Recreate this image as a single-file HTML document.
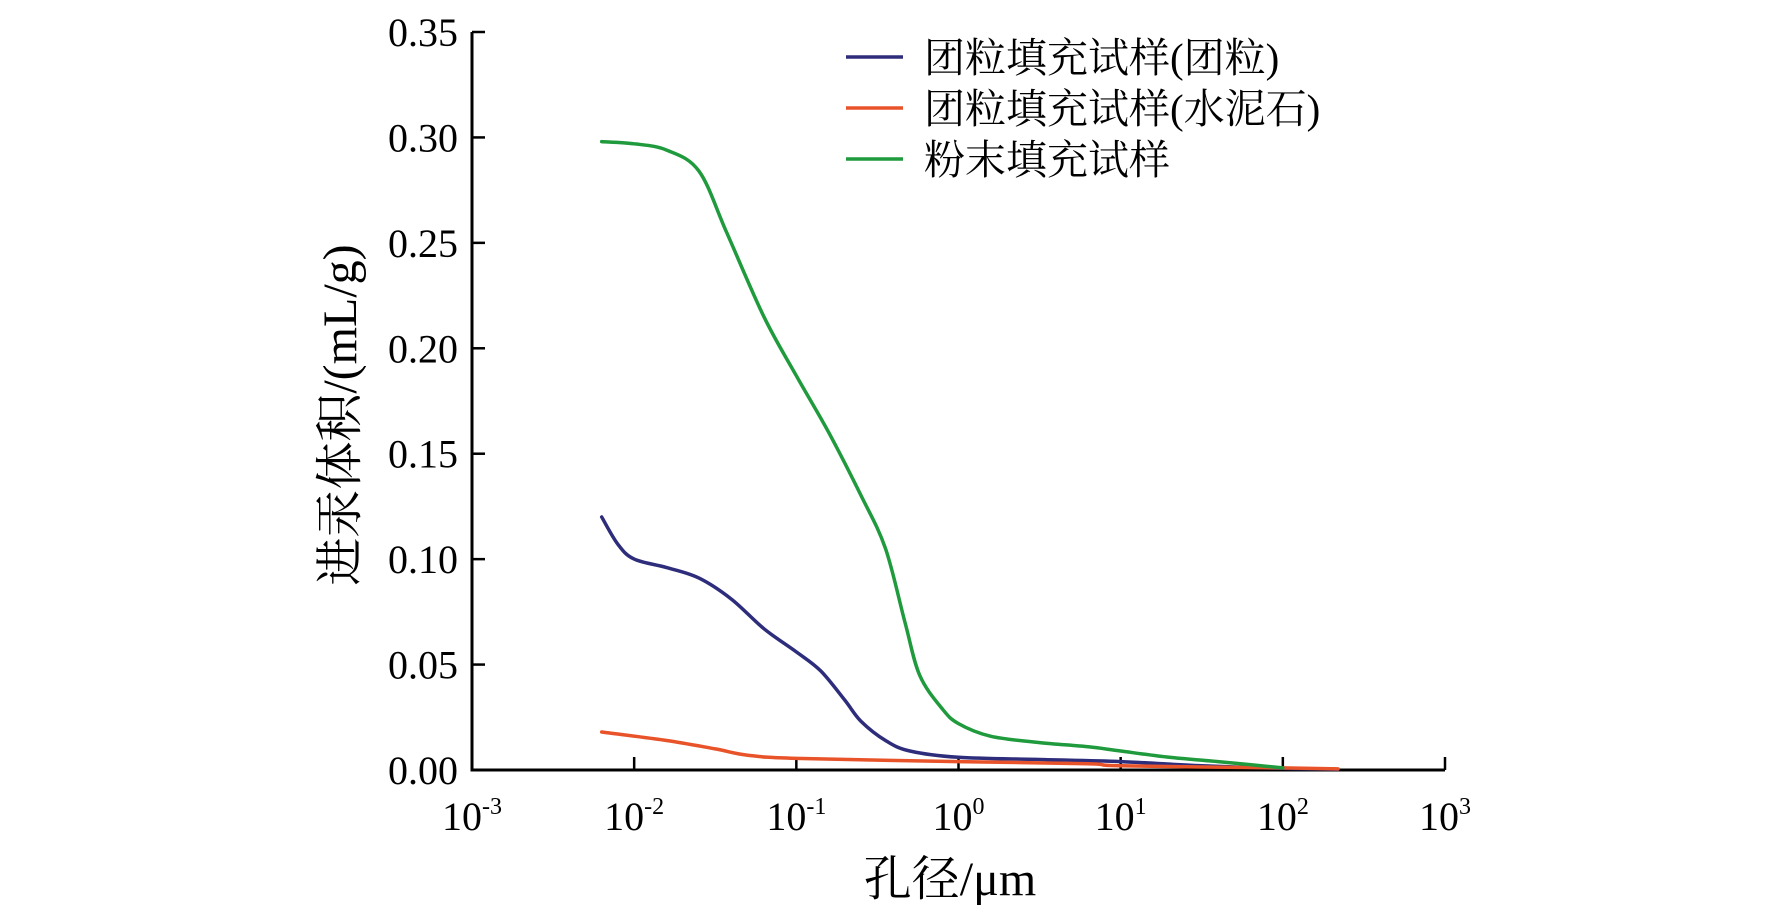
<!DOCTYPE html>
<html><head><meta charset="utf-8"><style>
body{margin:0;background:#fff;}
svg{display:block;font-family:"Liberation Serif","Noto Serif CJK SC",serif;}
</style></head><body>
<svg id="chart" width="1772" height="906" viewBox="0 0 1772 906" xmlns="http://www.w3.org/2000/svg"></svg>
<script>
const xTickExp = [-3,-2,-1,0,1,2,3];
const yTicks = [0,0.05,0.10,0.15,0.20,0.25,0.30,0.35];
const yTickLabels = ["0.00","0.05","0.10","0.15","0.20","0.25","0.30","0.35"];
const seriesNames = ["团粒填充试样(团粒)","团粒填充试样(水泥石)","粉末填充试样"];
const seriesColors = ["#2e2d7c","#e8532a","#1f9a3c"];
const blueLogX = [-2.2,-2.1,-2.0,-1.8,-1.6,-1.4,-1.2,-1.0,-0.85,-0.7,-0.6,-0.45,-0.3,0,0.5,1.0,1.5,2.0,2.34];
const blueY   = [0.12,0.107,0.1,0.096,0.091,0.081,0.067,0.056,0.047,0.033,0.023,0.014,0.009,0.006,0.005,0.004,0.002,0.0008,0.0004];
const orangeLogX = [-2.2,-1.8,-1.5,-1.3,-1.0,0,0.8,1.0,2.0,2.34];
const orangeY   = [0.018,0.014,0.01,0.007,0.0055,0.004,0.003,0.002,0.001,0.0005];
const greenLogX = [-2.2,-2.0,-1.8,-1.6,-1.43,-1.2,-1.0,-0.8,-0.6,-0.45,-0.33,-0.24,-0.1,0,0.2,0.5,0.8,1.0,1.3,1.6,2.0];
const greenY   = [0.298,0.297,0.294,0.284,0.255,0.215,0.187,0.16,0.13,0.105,0.07,0.045,0.029,0.022,0.016,0.013,0.011,0.009,0.006,0.004,0.001];

const NS="http://www.w3.org/2000/svg";
const svg=document.getElementById('chart');
const X0=472,X1=1445,Y0=770,Y1=32;
const xs=e=>X0+(e+3)/6*(X1-X0);
const ys=v=>Y0-v/0.35*(Y0-Y1);
function mk(t,a,p){const el=document.createElementNS(NS,t);for(const k in a)el.setAttribute(k,a[k]);(p||svg).appendChild(el);return el;}
function smooth(pts){
  let d='M'+pts[0][0].toFixed(1)+','+pts[0][1].toFixed(1);
  for(let i=0;i<pts.length-1;i++){
    const p0=pts[i-1]||pts[i],p1=pts[i],p2=pts[i+1],p3=pts[i+2]||p2;
    const c1=[p1[0]+(p2[0]-p0[0])/6,p1[1]+(p2[1]-p0[1])/6];
    const c2=[p2[0]-(p3[0]-p1[0])/6,p2[1]-(p3[1]-p1[1])/6];
    d+=' C'+c1[0].toFixed(1)+','+c1[1].toFixed(1)+' '+c2[0].toFixed(1)+','+c2[1].toFixed(1)+' '+p2[0].toFixed(1)+','+p2[1].toFixed(1);
  }
  return d;
}

let el=mk('line',{x1:X0,y1:Y0,x2:X1,y2:Y0,stroke:'#000','stroke-width':3});


el=mk('line',{x1:X0,y1:Y0+1.5,x2:X0,y2:Y1,stroke:'#000','stroke-width':3});



xTickExp.forEach(e=>{
  const x=xs(e);
  let t=mk('line',{x1:x,y1:Y0,x2:x,y2:Y0-13,stroke:'#000','stroke-width':2.5});
  
  
  const tx=mk('text',{x:x,y:830,'text-anchor':'middle','font-size':40});
  
  
  tx.innerHTML='10<tspan dy="-16" font-size="24">'+(e<0?'-'+(-e):e)+'</tspan>';
});
yTicks.forEach((v,i)=>{
  const y=ys(v);
  let t=mk('line',{x1:X0,y1:y,x2:X0+13,y2:y,stroke:'#000','stroke-width':2.5});
  
  
  const tx=mk('text',{x:458,y:y+14,'text-anchor':'end','font-size':40});
  
  
  tx.textContent=yTickLabels[i];
});

el=mk('text',{x:950,y:895,'text-anchor':'middle','font-size':48});


el.textContent='孔径/μm';
el=mk('text',{x:0,y:0,'text-anchor':'middle','font-size':48,transform:'translate(356,415) rotate(-90)'});


el.textContent='进汞体积/(mL/g)';

const series=[[blueLogX,blueY],[orangeLogX,orangeY],[greenLogX,greenY]];
const sNames=['series-aggregate','series-cement-stone','series-powder'];
series.forEach((s,i)=>{
  const pts=s[0].map((e,j)=>[xs(e),ys(s[1][j])]);
  const p=mk('path',{d:smooth(pts),fill:'none',stroke:seriesColors[i],'stroke-width':3.5,'stroke-linejoin':'round','stroke-linecap':'round'});
  
  
});

seriesNames.forEach((n,i)=>{
  const y=57+i*51;
  const g=mk('g',{});
  
  
  mk('line',{x1:846,y1:y,x2:903,y2:y,stroke:seriesColors[i],'stroke-width':3.5},g);
  const t=mk('text',{x:924,y:y+15,'font-size':41},g);
  t.textContent=n;
});
</script>
</body></html>
